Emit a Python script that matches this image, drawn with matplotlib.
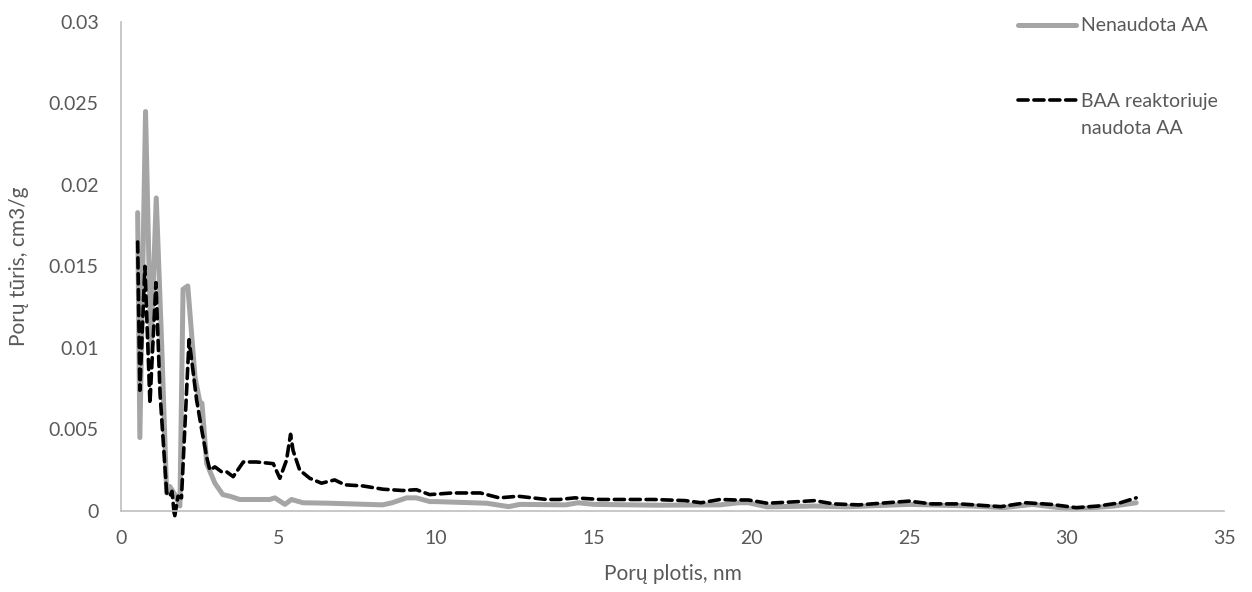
import matplotlib
matplotlib.use("Agg")
import matplotlib.pyplot as plt
from matplotlib.ticker import FuncFormatter, MultipleLocator

# pore width (nm) and pore volume (cm3/g)
unused_x = [0.53, 0.60, 0.78, 0.95, 1.12, 1.29, 1.45, 1.55, 1.71, 1.87, 1.97, 2.12,
            2.35, 2.50, 2.57, 2.72, 2.98, 3.23, 3.45, 3.77, 4.72, 4.88, 5.20, 5.41,
            5.77, 6.62, 8.30, 8.60, 9.06, 9.37, 9.80, 10.0, 11.6, 12.3, 12.65, 14.1,
            14.5, 15.0, 17.0, 19.0, 19.6, 19.9, 20.5, 22.0, 23.0, 25.0, 27.0, 28.0,
            28.9, 30.2, 31.5, 32.2]
unused_y = [0.0183, 0.0045, 0.0245, 0.0098, 0.0192, 0.0103, 0.0011, 0.0015, 0.0010,
            0.0003, 0.0136, 0.0138, 0.0082, 0.0067, 0.0066, 0.0029, 0.0017, 0.0010,
            0.0009, 0.0007, 0.0007, 0.0008, 0.0004, 0.0007, 0.0005, 0.00047, 0.00037,
            0.0005, 0.0008, 0.0008, 0.00057, 0.00057, 0.00047, 0.00026, 0.0004,
            0.00037, 0.0005, 0.0004, 0.00035, 0.00037, 0.0005, 0.0005, 0.00025,
            0.0003, 0.00025, 0.0004, 0.0003, 0.0002, 0.0004, 0.0001, 0.0003, 0.0005]

used_x = [0.53, 0.60, 0.76, 0.92, 1.11, 1.24, 1.45, 1.55, 1.62, 1.70, 1.81, 1.92,
          2.16, 2.24, 2.40, 2.56, 2.72, 2.82, 2.98, 3.19, 3.35, 3.56, 3.88, 4.30,
          4.83, 5.04, 5.25, 5.38, 5.46, 5.67, 5.99, 6.36, 6.78, 7.10, 7.68, 8.31,
          8.94, 9.37, 9.79, 10.5, 11.4, 12.0, 12.6, 13.5, 13.9, 14.4, 15.2, 16.9,
          17.9, 18.4, 19.0, 19.5, 19.9, 20.5, 21.5, 22.0, 22.6, 23.4, 24.3, 25.0,
          25.7, 26.6, 27.9, 28.7, 29.5, 30.3, 31.0, 31.7, 32.2]
used_y = [0.0165, 0.0074, 0.0150, 0.0066, 0.0140, 0.0072, 0.0011, 0.0009, 0.0012,
          -0.0004, 0.0009, 0.0008, 0.0105, 0.0093, 0.0068, 0.0050, 0.0033, 0.0025,
          0.0027, 0.0024, 0.0024, 0.0021, 0.0030, 0.0030, 0.0029, 0.0020, 0.0031,
          0.0047, 0.0037, 0.0025, 0.0020, 0.0017, 0.0019, 0.0016, 0.00153, 0.00133,
          0.00125, 0.0013, 0.0010, 0.0011, 0.0011, 0.0008, 0.0009, 0.0007, 0.0007,
          0.0008, 0.0007, 0.0007, 0.00063, 0.0005, 0.0007, 0.00067, 0.00067,
          0.00047, 0.00057, 0.00063, 0.00043, 0.00037, 0.0005, 0.0006, 0.00043,
          0.00043, 0.00026, 0.0005, 0.0004, 0.0002, 0.0003, 0.0005, 0.0008]

plt.rcParams['font.family'] = ['Lato', 'DejaVu Sans']
txt = '#595959'

fig = plt.figure(figsize=(12.52, 5.92), dpi=100)
ax = fig.add_axes([0.0966, 0.137, 0.8814, 0.826])

ax.plot(unused_x, unused_y, color='#A5A5A5', lw=3.6, solid_capstyle='round',
        solid_joinstyle='round', label='Nenaudota AA', clip_on=False)
ax.plot(used_x, used_y, color='black', lw=2.6, linestyle=(0, (2.8, 1.6)),
        dash_capstyle='round', label='BAA reaktoriuje', clip_on=False)

ax.set_xlim(0, 35)
ax.set_ylim(0, 0.03)
ax.xaxis.set_major_locator(MultipleLocator(5))
ax.yaxis.set_major_locator(MultipleLocator(0.005))
ax.yaxis.set_major_formatter(FuncFormatter(lambda v, p: '%g' % round(v, 4)))

for s in ['top', 'right']:
    ax.spines[s].set_visible(False)
for s in ['left', 'bottom']:
    ax.spines[s].set_color('#BFBFBF')
    ax.spines[s].set_linewidth(1.2)
ax.tick_params(length=0, labelsize=14, colors=txt)
ax.tick_params(axis='y', pad=16)
ax.tick_params(axis='x', pad=14)

ax.set_xlabel('Porų plotis, nm', fontsize=15, color=txt, labelpad=12)
ax.set_ylabel('Porų tūris, cm3/g', fontsize=15, color=txt, labelpad=14)

leg = ax.legend(loc='upper left', bbox_to_anchor=(0.797, 1.045), frameon=False,
                fontsize=14, labelcolor=txt, handlelength=3.0, handletextpad=0.25,
                labelspacing=3.0)

# second line of the long legend label sits under the first one
fig.canvas.draw()
bb = leg.get_texts()[1].get_window_extent()
x0, y0 = fig.transFigure.inverted().transform((bb.x0, bb.y0))
fig.text(x0, y0 - 27 / 592, 'naudota AA', fontsize=14, color=txt, va='bottom', ha='left')

fig.savefig('out.png', dpi=100)
